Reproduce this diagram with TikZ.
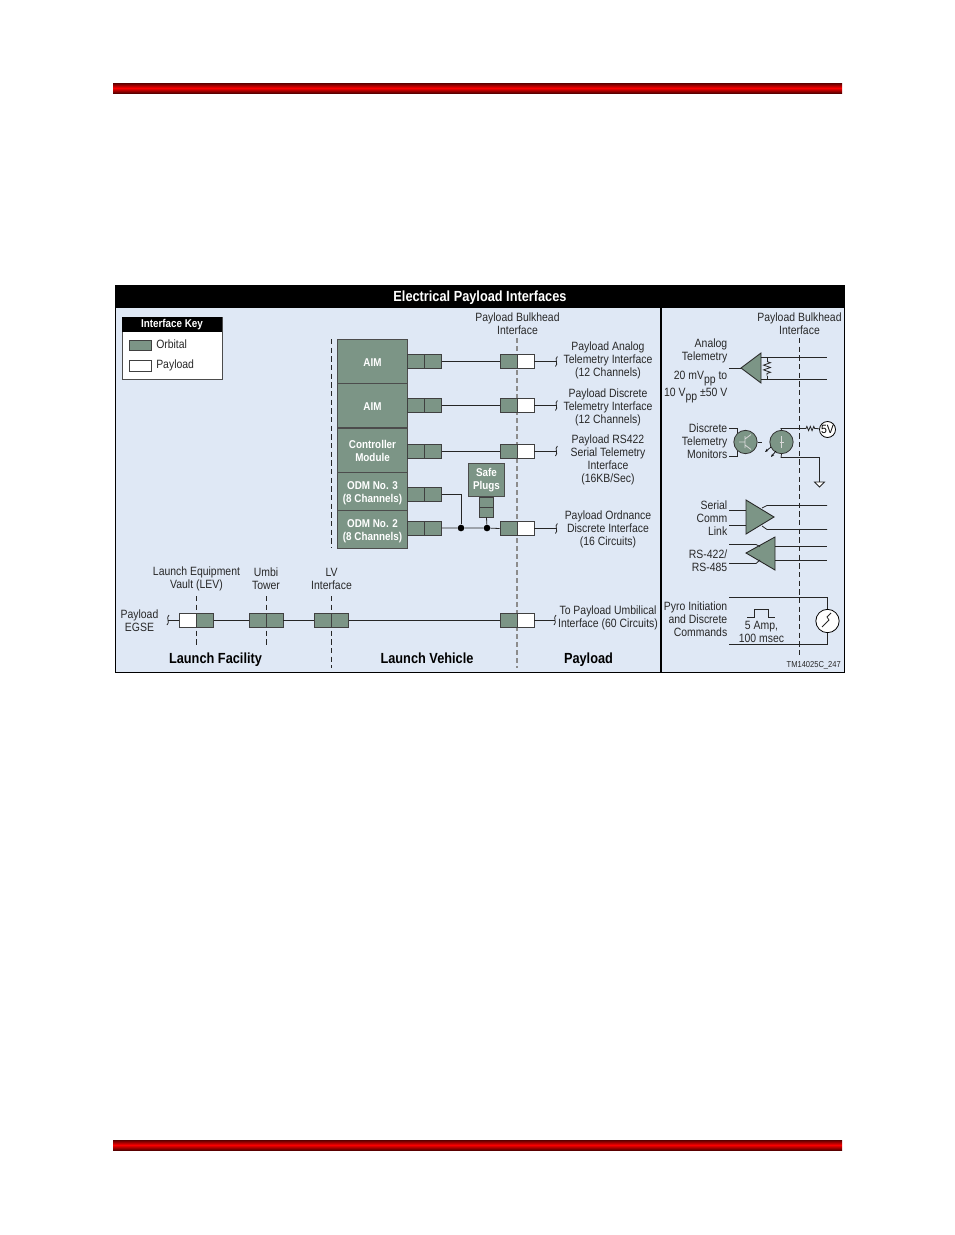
\documentclass[tikz,border=0pt]{standalone}
\usepackage{fontspec}
\setmainfont[FakeStretch=0.87]{Liberation Sans}
\usepackage{xcolor}
\usetikzlibrary{calc,arrows.meta,decorations.pathmorphing}
\definecolor{orb}{RGB}{124,149,134}
\definecolor{pan}{RGB}{223,232,245}
\definecolor{ink}{RGB}{40,40,40}
\definecolor{rd}{RGB}{250,0,0}
\definecolor{drd}{RGB}{90,0,0}
\tikzset{
  bar/.style={top color=drd,bottom color=drd,middle color=rd},
  lbl/.style={inner sep=0pt,align=center,text=ink,font=\fontsize{9}{9.75}\selectfont},
  rlbl/.style={inner sep=0pt,align=right,anchor=east,text=ink,font=\fontsize{9}{9.75}\selectfont},
  zone/.style={inner sep=0pt,anchor=base,font=\fontsize{11}{12}\selectfont\bfseries},
  cell/.style={draw=black!75,line width=0.6pt,minimum width=12.75pt,minimum height=10.5pt,inner sep=0pt},
  orbc/.style={cell,fill=orb},
  payc/.style={cell,fill=white},
  modl/.style={draw=black!70,line width=0.6pt,fill=orb,text=white,inner sep=0pt,align=center,
    font=\fontsize{8.5}{9.75}\selectfont\bfseries,minimum width=53pt},
  wire/.style={black!85,line width=0.6pt},
  bulk/.style={black!45,line width=0.8pt,dash pattern=on 3.5pt off 2.5pt},
  bulkk/.style={black!85,line width=0.65pt,dash pattern=on 4pt off 2.5pt},
  amp/.style={draw=black!85,line width=0.65pt,fill=orb},
  lamp/.style={circle,draw=black!80,line width=0.6pt,fill=orb,minimum size=17.5pt,inner sep=0pt},
  res/.style={wire,decorate,decoration={zigzag,segment length=2.6pt,amplitude=1.6pt}},
  bigres/.style={wire,decorate,decoration={zigzag,segment length=3.6pt,amplitude=2.6pt}},
  ph/.style={black,line width=0.5pt,-{Stealth[length=2.5pt]}},
  dot/.style={circle,fill=black,minimum size=5pt,inner sep=0pt}
}
% pair of connector cells, #1 name, #2 x of the split, #3 y
\newcommand{\cellpair}[5]{
  \node[#4] (#1a) at (#2-8.5,#3) {};
  \node[#5] (#1b) at (#2+8.5,#3) {};
}
\newcommand{\stubtick}[1]{\draw[wire] ($(#1)+(1,-5)$) .. controls ($(#1)+(-2.5,-2.5)$) and ($(#1)+(2.5,2.5)$) .. ($(#1)+(-1,5)$);}

\begin{document}
\begin{tikzpicture}[x=0.75pt,y=-0.75pt]
\useasboundingbox (0,0) rectangle (954,1235);
\shade[bar] (113,83) rectangle (842,93);
\shade[bar] (113,1140) rectangle (842,1150);

% frame
\fill[pan] (115,285) rectangle (844,673);
\fill[black] (115,285) rectangle (844,308);
\draw[black,line width=0.75pt] (115.5,285.5) rectangle (844,672);
\draw[black,line width=0.8pt] (661,308) -- (661,672);
\node[zone,text=white] (title) at (480,301.5) {Electrical Payload Interfaces};

% key
\draw[black!70,fill=white,line width=0.7pt] (122,317) rectangle (222,379);
\fill[black] (122,317) rectangle (222,332);
\node[inner sep=0pt,text=white,font=\fontsize{8.5}{10}\selectfont\bfseries] (keyt) at (172,325) {Interface Key};
\draw[black!75,fill=orb,line width=0.5pt] (129,340) rectangle (151,350);
\draw[black!75,fill=white,line width=0.5pt] (129,360) rectangle (151,371);
\node[lbl,anchor=west] (keya) at (156,344) {Orbital};
\node[lbl,anchor=west] (keyb) at (156,365.5) {Payload};

% bulkhead lines
\draw[bulk] (517,338) -- (517,668);
\draw[bulkk] (331.5,339) -- (331.5,548);
\draw[bulkk] (331.5,596) -- (331.5,668);
\draw[bulkk] (196.5,596) -- (196.5,647);
\draw[bulkk] (266,596) -- (266,647);
\draw[bulkk] (799,338) -- (799,655);

% module stack
\node[modl,minimum height=33pt] (aima) at (372.5,361) {\rule{0pt}{8.2pt}AIM};
\node[modl,minimum height=33.5pt] (aimb) at (372.5,405.5) {\rule{0pt}{7pt}AIM};
\node[modl,minimum height=33.5pt] (ctrl) at (372.5,450.5) {Controller\\Module};
\node[modl,minimum height=28pt] (odmc) at (372.5,491.5) {\rule{0pt}{8pt}ODM No. 3\\(8 Channels)};
\node[modl,minimum height=29pt] (odmb) at (372.5,529.5) {\rule{0pt}{9pt}ODM No. 2\\(8 Channels)};

\cellpair{ra}{424.5}{361.5}{orbc}{orbc}
\cellpair{rb}{424.5}{405.5}{orbc}{orbc}
\cellpair{rc}{424.5}{451}{orbc}{orbc}
\cellpair{rd}{424.5}{494}{orbc}{orbc}
\cellpair{re}{424.5}{528}{orbc}{orbc}
\cellpair{sa}{517}{361.5}{orbc}{payc}
\cellpair{sb}{517}{405.5}{orbc}{payc}
\cellpair{sc}{517}{451}{orbc}{payc}
\cellpair{se}{517}{528.5}{orbc}{payc}
\foreach \r in {a,b,c} {
  \coordinate (t\r) at ($(s\r b.east)+(22,0)$);
  \draw[wire] (r\r b.east) -- (s\r a.west);
  \draw[wire] (s\r b.east) -- (t\r);
  \stubtick{t\r}
}
\coordinate (te) at ($(seb.east)+(22,0)$);
\draw[wire] (seb.east) -- (te);
\stubtick{te}

% safe plugs
\node[modl,minimum width=27.5pt,minimum height=25pt] (safe) at (486.5,480) {Safe\\Plugs};
\node[orbc,minimum width=10.5pt,minimum height=7.5pt] (plga) at (486.5,502) {};
\node[orbc,minimum width=10.5pt,minimum height=7.5pt] (plgb) at (486.5,512) {};
\node[dot] (jna) at (461,528) {};
\node[dot] (jnb) at (487,528) {};
\draw[wire] (reb.east) -- (jna) -- (jnb) -- (sea.west);
\draw[wire] (rdb.east) -| (jna);
\draw[wire] (plgb.south) -- (jnb);

% umbilical row
\cellpair{ua}{196.5}{620}{payc}{orbc}
\cellpair{ub}{266}{620}{orbc}{orbc}
\cellpair{uc}{331.5}{620}{orbc}{orbc}
\cellpair{ud}{517}{620}{orbc}{payc}
\coordinate (tf) at (168,620);
\coordinate (tg) at (555,620);
\draw[wire] (tf) -- (uaa.west);
\draw[wire] (uab.east) -- (uba.west);
\draw[wire] (ubb.east) -- (uca.west);
\draw[wire] (ucb.east) -- (uda.west);
\draw[wire] (udb.east) -- (tg);
\stubtick{tf}
\stubtick{tg}

% labels
\node[lbl] (lbha) at (517.5,323.5) {Payload Bulkhead\\Interface};
\node[lbl] (lpa) at (608,360) {Payload Analog\\Telemetry Interface\\(12 Channels)};
\node[lbl] (lpb) at (608,407) {Payload Discrete\\Telemetry Interface\\(12 Channels)};
\node[lbl] (lpc) at (608,459.5) {Payload RS422\\Serial Telemetry\\Interface\\(16KB/Sec)};
\node[lbl] (lpe) at (608,529) {Payload Ordnance\\Discrete Interface\\(16 Circuits)};
\node[lbl] (lpf) at (608,618) {To Payload Umbilical\\Interface (60 Circuits)};
\node[lbl] (legse) at (139.5,620.5) {Payload\\EGSE};
\node[lbl] (llev) at (196.5,578.5) {Launch Equipment\\Vault (LEV)};
\node[lbl] (lumb) at (266,578.5) {Umbi\\Tower};
\node[lbl] (llv) at (331.5,578.5) {LV\\Interface};
\node[zone] (zfac) at (215.5,663) {Launch Facility};
\node[zone] (zveh) at (427,663) {Launch Vehicle};
\node[zone] (zpay) at (588.5,663) {Payload};

% right panel
\node[lbl] (lbhb) at (799.5,323.5) {Payload Bulkhead\\Interface};
\node[rlbl] (lana) at (727.5,350.5) {Analog\\Telemetry};
\node[rlbl] (lvpp) at (727.5,387) {20 mV\raisebox{-2.5pt}{pp} to\\[1pt]10 V\raisebox{-2.5pt}{pp} ±50 V};

% analog amplifier
\draw[amp] (741,368) -- (761,353) -- (761,383) -- cycle;
\coordinate (ain) at (729,368);
\coordinate (atip) at (741,368);
\coordinate (aa) at (761,357.5);
\coordinate (ab) at (761,379.5);
\coordinate (ac) at (767,357.5);
\coordinate (ad) at (767,379.5);
\coordinate (ae) at (827,357.5);
\coordinate (af) at (827,379.5);
\draw[wire] (ain) -- (atip);
\draw[wire] (aa) -- (ae);
\draw[wire] (ab) -- (af);
\draw[bigres] ($(ac)+(0,4)$) -- ($(ad)+(0,-4)$);
\draw[wire] (ac) -- ($(ac)+(0,4)$);
\draw[wire] (ad) -- ($(ad)+(0,-4)$);

% discrete monitors
\node[rlbl] (ldis) at (727.5,441) {Discrete\\Telemetry\\Monitors};
\node[lamp] (opta) at (745.5,442) {};
\node[lamp] (optb) at (781.5,442) {};
\draw[wire] (729,428.5) -- (737,428.5) -- (737,433);
\draw[wire] (729,456.5) -- (737,456.5) -- (737,451);
\draw[wire] (opta.east) -- +(4,0);
\draw[white!85!black,line width=0.6pt] (739,442) -- (745,442) (745,436) -- (745,448) (745,439) -- (751,434.5) (745,445) -- (751,449.5);
\draw[white!85!black,line width=0.6pt] (781.5,436) -- (781.5,448) (779.5,442) -- (783.5,442);
\draw[ph] (771,447) -- (765,452);
\draw[ph] (776,451) -- (771,457);
\node[circle,draw=black,line width=0.6pt,fill=white,inner sep=0pt,minimum size=12pt,font=\fontsize{9}{9}\selectfont] (fivev) at (827.5,429.5) {5V};
\coordinate (pa) at (781,428.5);
\coordinate (pb) at (806,428.5);
\coordinate (pc) at (816,428.5);
\coordinate (pd) at (781,457.5);
\coordinate (pe) at (819.5,457.5);
\coordinate (pf) at (819.5,482);
\draw[wire] (optb.north) -- (pa) -- (pb);
\draw[res] (pb) -- (pc);
\draw[wire] (pc) -- (fivev);
\draw[wire] (optb.south) -- (pd) -- (pe) -- (pf);
\draw[wire,fill=white] (814.5,482) -- (824.5,482) -- (819.5,487) -- cycle;

% serial link
\node[rlbl] (lser) at (727.5,518) {Serial\\Comm\\Link};
\node[rlbl] (lrs) at (727.5,561) {RS-422/\\RS-485};
\draw[amp] (746,500) -- (774,517) -- (746,534) -- cycle;
\draw[amp] (746,553) -- (775,537) -- (775,570) -- cycle;
\draw[wire] (729,510.5) -- (746,510.5);
\draw[wire] (729,525.5) -- (746,525.5);
\draw[wire] (762,508) -- (767,505.5) -- (827,505.5);
\draw[wire] (762,526) -- (767,529.5) -- (827,529.5);
\draw[wire] (775,546.5) -- (827,546.5);
\draw[wire] (775,560.5) -- (827,560.5);
\draw[wire] (729,544.5) -- (756,544.5) -- (760,546.5);
\draw[wire] (729,563.5) -- (756,563.5) -- (760,560);

% pyro
\node[rlbl] (lpyr) at (727.5,619.5) {Pyro Initiation\\and Discrete\\Commands};
\node[circle,draw=black,line width=0.6pt,fill=white,minimum size=17.5pt,inner sep=0pt] (pyro) at (827.5,621) {};
\coordinate (ya) at (729,597.5);
\coordinate (yb) at (827.5,597.5);
\coordinate (yc) at (729,644.5);
\coordinate (yd) at (827.5,644.5);
\draw[wire] (ya) -- (yb) -- (pyro);
\draw[wire] (yc) -- (yd) -- (pyro);
\draw[wire] (822,627) -- (829,620) -- (827,617) -- (831,613);
\draw[wire] (747,617.5) -- (754,617.5) -- (754,609.5) -- (768,609.5) -- (768,617.5) -- (775,617.5);
\node[lbl] (lamp) at (761.5,632) {5 Amp,\\100 msec};
\node[inner sep=0pt,anchor=east,text=ink,font=\fontsize{6.5}{7}\selectfont] (ltm) at (841,665.5) {TM14025C\_247};
\end{tikzpicture}
\end{document}
